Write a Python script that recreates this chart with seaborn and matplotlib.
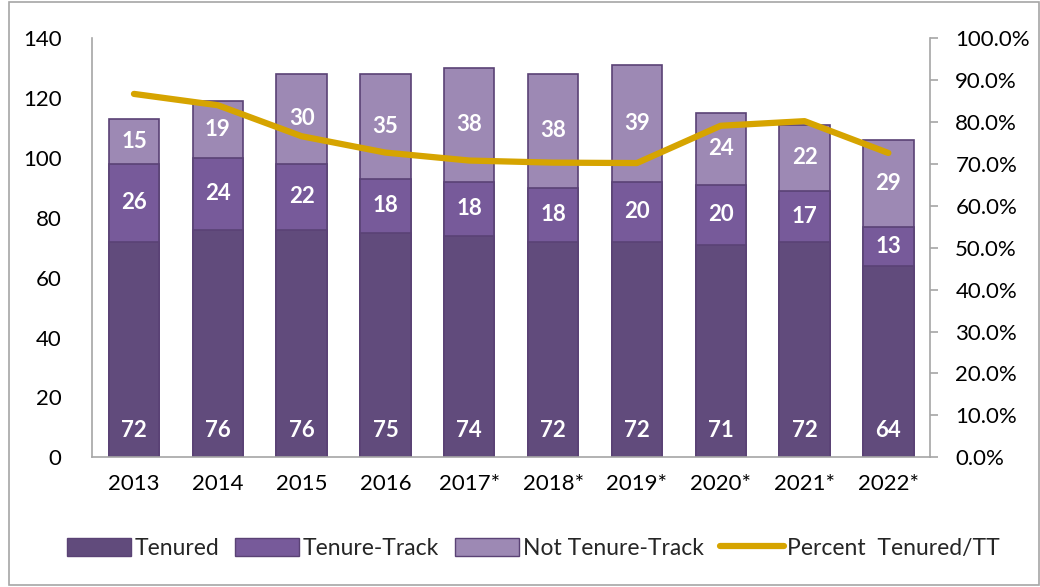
import matplotlib
matplotlib.use("Agg")
import matplotlib.pyplot as plt
import seaborn as sns
import pandas as pd
import numpy as np
from matplotlib.ticker import FuncFormatter
from matplotlib.patches import Rectangle
from matplotlib.lines import Line2D

years = ["2013", "2014", "2015", "2016", "2017*", "2018*", "2019*", "2020*", "2021*", "2022*"]
tenured = [72, 76, 76, 75, 74, 72, 72, 71, 72, 64]
tenure_track = [26, 24, 22, 18, 18, 18, 20, 20, 17, 13]
not_tenure_track = [15, 19, 30, 35, 38, 38, 39, 24, 22, 29]
pct_tenured_tt = [86.7, 84.0, 76.6, 72.7, 70.8, 70.3, 70.2, 79.1, 80.2, 72.6]

series_names = ["Tenured", "Tenure-Track", "Not Tenure-Track"]
colors = ["#614B7C", "#775A9A", "#9D89B4"]
edge = "#5A4275"
gold = "#D6A400"
grey = "#A6A6A6"

sns.set_theme(style="white")
plt.rcParams["font.family"] = ["Lato", "DejaVu Sans"]

df = pd.DataFrame({"year": years, "Tenured": tenured,
                   "Tenure-Track": tenure_track, "Not Tenure-Track": not_tenure_track})
df["top_tenured"] = df["Tenured"]
df["top_tt"] = df["Tenured"] + df["Tenure-Track"]
df["top_all"] = df["top_tt"] + df["Not Tenure-Track"]

fig = plt.figure(figsize=(10.4, 5.87), dpi=100)
ax = fig.add_axes([0.0885, 0.221, 0.806, 0.714])

# stacked bars: draw cumulative totals from the tallest layer down
for col_name, col in [("top_all", colors[2]), ("top_tt", colors[1]), ("top_tenured", colors[0])]:
    sns.barplot(data=df, x="year", y=col_name, color=col, ax=ax, width=0.6,
                edgecolor=edge, linewidth=1.2, saturation=1)

x = np.arange(len(years))
bottom = np.zeros(len(years))
for name in series_names:
    vals = df[name].to_numpy()
    for xi, v, b in zip(x, vals, bottom):
        yy = b + v / 2 if name != "Tenured" else 9
        ax.text(xi, yy, str(v), ha="center", va="center", color="white",
                fontsize=16, fontweight="bold", zorder=3)
    bottom = bottom + vals

ax.set_xlim(-0.5, len(years) - 0.5)
ax.set_ylim(0, 140)
ax.set_yticks(range(0, 141, 20))
ax.set_xlabel("")
ax.set_ylabel("")
ax.tick_params(axis="y", length=0, pad=22, labelsize=16, colors="black")
ax.tick_params(axis="x", length=0, pad=12, labelsize=16, colors="black")
for s in ["top", "right"]:
    ax.spines[s].set_visible(False)
for s in ["left", "bottom"]:
    ax.spines[s].set_color(grey)
    ax.spines[s].set_linewidth(1.2)

ax2 = ax.twinx()
sns.lineplot(x=x, y=pct_tenured_tt, ax=ax2, color=gold, linewidth=4.5, zorder=4)
ax2.set_ylim(0, 100)
ax2.set_yticks(range(0, 101, 10))
ax2.yaxis.set_major_formatter(FuncFormatter(lambda v, _: f"{v:.1f}%"))
ax2.tick_params(axis="y", length=6, width=1.2, pad=12, labelsize=16, colors="black")
ax2.tick_params(axis="y", color=grey)
for s in ["top", "left", "bottom"]:
    ax2.spines[s].set_visible(False)
ax2.spines["right"].set_color(grey)
ax2.spines["right"].set_linewidth(1.2)
ax2.set_ylabel("")

handles = [Rectangle((0, 0), 1, 1, facecolor=c, edgecolor=edge, linewidth=1) for c in colors]
handles.append(Line2D([0], [0], color=gold, linewidth=4.5, solid_capstyle="round"))
fig.legend(handles, series_names + ["Percent  Tenured/TT"], loc="center",
           bbox_to_anchor=(0.513, 0.066), ncol=4, frameon=False, fontsize=16.5,
           handlelength=2.8, handleheight=0.8, handletextpad=0.15, columnspacing=0.7)

fig.patches.append(Rectangle((0.009, 0.003), 0.99, 0.994, transform=fig.transFigure,
                             fill=False, edgecolor=grey, linewidth=1.2))

fig.savefig("out.png", dpi=100)
